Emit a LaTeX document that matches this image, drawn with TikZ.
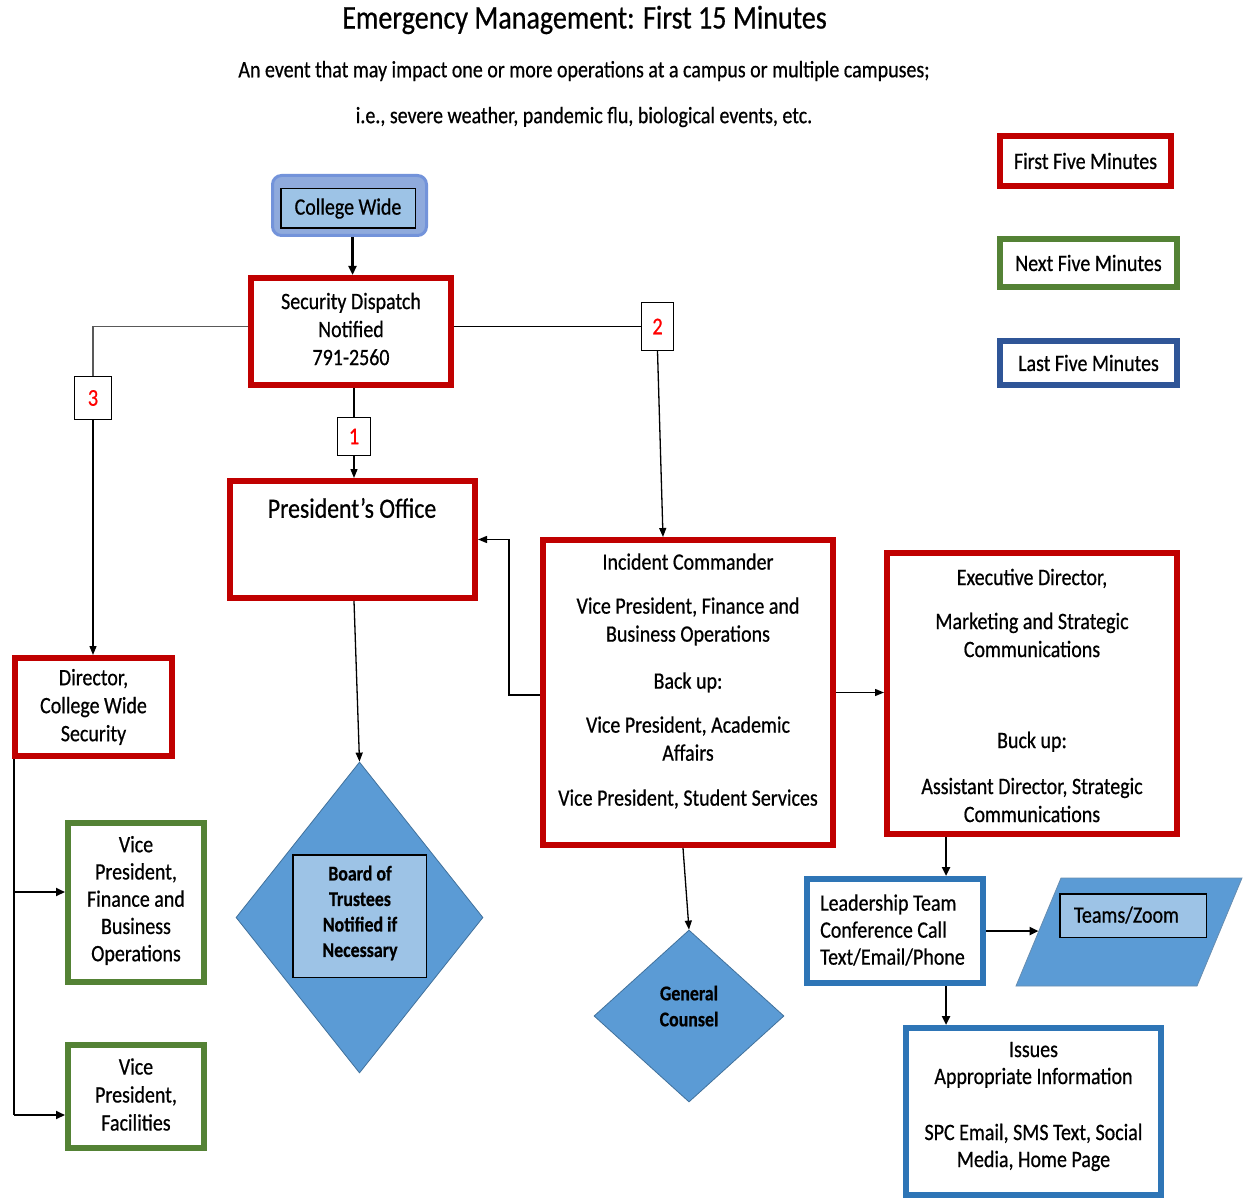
\documentclass[tikz,border=0pt]{standalone}
\usepackage{fontspec}
\setmainfont{Carlito}[FakeStretch=0.85,FakeBold=0.6]
\usetikzlibrary{arrows.meta,shapes.geometric}
\definecolor{phasered}{HTML}{C00000}
\definecolor{phasegreen}{HTML}{548235}
\definecolor{phaseblue}{HTML}{2F5597}
\definecolor{stepblue}{HTML}{2E75B6}
\definecolor{shapefill}{HTML}{5B9BD5}
\definecolor{shapeedge}{HTML}{41719C}
\definecolor{panelfill}{HTML}{9DC3E6}
\definecolor{badgefill}{HTML}{8FAADC}
\definecolor{badgeedge}{HTML}{7393DA}
\newcommand{\setfs}[2]{\fontsize{#1}{#2}\selectfont}
\begin{document}
\begin{tikzpicture}[x=1pt,y=-1pt,
  frame/.style={draw, line width=6pt, fill=white, inner sep=0pt},
  redframe/.style={frame, draw=phasered},
  greenframe/.style={frame, draw=phasegreen},
  blueframe/.style={frame, draw=stepblue},
  boxfont/.style={font=\setfs{23.5}{28}},
  txt/.style={inner sep=0pt, align=center, boxfont},
  tag/.style={draw, line width=1.2pt, fill=white, inner sep=0pt, text=red, font=\setfs{24}{24}},
  wire/.style={line width=1.3pt},
  arrowwire/.style={wire, -{Triangle[length=9pt,width=7pt]}},
  heavyarrow/.style={line width=2.5pt, -{Triangle[length=9pt,width=8pt]}},
  sidearrow/.style={line width=2pt, -{Triangle[length=9pt,width=8pt]}},
  decision/.style={diamond, fill=shapefill, draw=shapeedge, line width=0.8pt, inner sep=0pt},
  panel/.style={draw, line width=1.5pt, fill=panelfill, inner sep=0pt},
  boldsmall/.style={inner sep=0pt, align=center, font=\bfseries\setfs{21}{25.5}},
]
\useasboundingbox (0,0) rectangle (1248,1201);

% heading
\node[font=\setfs{33}{36}] (title) at (584.5,20) {Emergency Management: First 15 Minutes};
\node[font=\setfs{23.5}{28}] (sub1) at (584,71) {An event that may impact one or more operations at a campus or multiple campuses;};
\node[font=\setfs{23.5}{28}] (sub2) at (584,117) {i.e., severe weather, pandemic flu, biological events, etc.};

% phase key
\node[redframe, boxfont, minimum width=171pt, minimum height=50pt] (keyfirst) at (1085.5,161) {First Five Minutes};
\node[greenframe, boxfont, minimum width=177pt, minimum height=48pt] (keynext) at (1088.5,263) {Next Five Minutes};
\node[frame, draw=phaseblue, boxfont, minimum width=177pt, minimum height=44pt] (keylast) at (1088.5,363) {Last Five Minutes};

% start badge
\node[draw=badgeedge, fill=badgefill, line width=3pt, rounded corners=9pt, minimum width=154pt, minimum height=60pt] (cw) at (349.5,205.5) {};
\node[panel, boxfont, minimum width=134.5pt, minimum height=39.5pt] (cwin) at (348,208.5) {College Wide};

% dispatch
\node[redframe, minimum width=200pt, minimum height=107pt] (sec) at (351,331.5) {};
\node[txt] (sectext) at (351,329) {Security Dispatch\\Notified\\791-2560};

% sequence tags
\node[tag, minimum width=31.8pt, minimum height=47.8pt] (t2) at (657.5,326.5) {2};
\node[tag, minimum width=36.8pt, minimum height=42.8pt] (t3) at (93,398) {3};
\node[tag, minimum width=32.8pt, minimum height=37.8pt] (t1) at (354,436.5) {1};

% first five minutes
\node[redframe, minimum width=245pt, minimum height=117pt] (pres) at (352.5,539.5) {};
\node[inner sep=0pt, font=\setfs{28}{32}] (prestext) at (352,508) {President’s Office};

\node[redframe, minimum width=290pt, minimum height=305pt] (ic) at (688,692.5) {};
\node[txt] (ictext) at (688,681) {Incident Commander\\[16pt]
  Vice President, Finance and\\Business Operations\\[19pt]
  Back up:\\[16pt]
  Vice President, Academic\\Affairs\\[17pt]
  Vice President, Student Services};

\node[redframe, minimum width=290pt, minimum height=281pt] (exec) at (1032,693.5) {};
\node[txt] (exectext) at (1032,695.5) {Executive Director,\\[16pt]
  Marketing and Strategic\\Communications\\[63pt]
  Buck up:\\[18pt]
  Assistant Director, Strategic\\Communications};

\node[redframe, minimum width=157pt, minimum height=98pt] (dir) at (93.5,707) {};
\node[txt] (dirtext) at (93.5,707) {Director,\\College Wide\\Security};

% next five minutes
\node[greenframe, minimum width=136pt, minimum height=159pt] (vpfin) at (136,902.5) {};
\node[txt, font=\setfs{23.5}{27.25}] (vpfintext) at (136,900.5) {Vice\\President,\\Finance and\\Business\\Operations};
\node[greenframe, minimum width=136pt, minimum height=103pt] (vpfac) at (136,1096.5) {};
\node[txt] (vpfactext) at (136,1094.5) {Vice\\President,\\Facilities};

% decisions
\node[decision, minimum width=247pt, minimum height=311pt] (board) at (359.5,917.5) {};
\node[panel, minimum width=133.5pt, minimum height=122.5pt] (boardin) at (359.5,916) {};
\node[boldsmall] (boardtext) at (360,913) {Board of\\Trustees\\Notified if\\Necessary};

\node[decision, minimum width=190pt, minimum height=172pt] (gc) at (689,1016) {};
\node[boldsmall, font=\bfseries\setfs{21}{26}] (gctext) at (689,1006) {General\\Counsel};

% last five minutes
\node[blueframe, minimum width=176pt, minimum height=104pt] (lead) at (895,931) {};
\node[inner sep=0pt, align=left, boxfont, font=\setfs{23.5}{27}, anchor=west] (leadtext) at (820,930) {Leadership Team\\Conference Call\\Text/Email/Phone};

\filldraw[fill=shapefill, draw=shapeedge!80, line width=0.8pt] (1016,986) -- (1061,878) -- (1242,878) -- (1197,986) -- cycle;
\coordinate (tzin) at (1038.5,931);
\node[panel, minimum width=146.5pt, minimum height=43.5pt] (tzpanel) at (1133,915.5) {};
\node[txt] (tztext) at (1126.5,915) {Teams/Zoom};

\node[blueframe, minimum width=255pt, minimum height=167pt] (issues) at (1033.5,1111.5) {};
\node[txt, font=\setfs{23.5}{27}] (issuestext) at (1033.5,1106.5) {Issues\\Appropriate Information\\[29pt]
  SPC Email, SMS Text, Social\\Media, Home Page};

% connectors
\coordinate (cwfoot) at ([xshift=3pt]cw.south);
\draw[heavyarrow] (cwfoot) -- (cwfoot |- sec.north);

\draw[wire] (sec.east |- t2.west) -- (t2.west);
\coordinate (icin) at ([xshift=-25pt]ic.north);
\draw[arrowwire] (t2.south) -- (icin);

\draw[wire, draw=black!65] (sec.west |- t2.west) -| (t3.north);
\draw[arrowwire] (t3.south) -- (t3.south |- dir.north);

\draw[wire] (t1.north |- sec.south) -- (t1.north);
\draw[arrowwire] (t1.south) -- (t1.south |- pres.north);

\draw[arrowwire] ([yshift=-2.5pt]ic.west) -- ++(-31,0) |- (pres.east);
\draw[arrowwire] (ic.east) -- (ic.east -| exec.west);
\coordinate (icfoot) at ([xshift=-5pt]ic.south);
\draw[arrowwire] (icfoot) -- (gc.north);
\coordinate (presfoot) at ([xshift=1.5pt]pres.south);
\draw[arrowwire] (presfoot) -- (board.north);

\coordinate (leadtop) at ([xshift=51pt]lead.north);
\draw[heavyarrow] (leadtop |- exec.south) -- (leadtop);
\draw[heavyarrow] (lead.east) -- (tzin);
\coordinate (leadfoot) at ([xshift=51pt]lead.south);
\draw[heavyarrow] (leadfoot) -- (leadfoot |- issues.north);

\coordinate (trunk) at ([xshift=2pt]dir.south west);
\coordinate (finin) at ([yshift=10.5pt]vpfin.west);
\coordinate (facin) at ([yshift=-18.5pt]vpfac.west);
\draw[wire] (trunk) |- (trunk |- facin);
\draw[sidearrow] (trunk |- facin) -- (facin);
\draw[sidearrow] (trunk |- finin) -- (finin);
\end{tikzpicture}
\end{document}
